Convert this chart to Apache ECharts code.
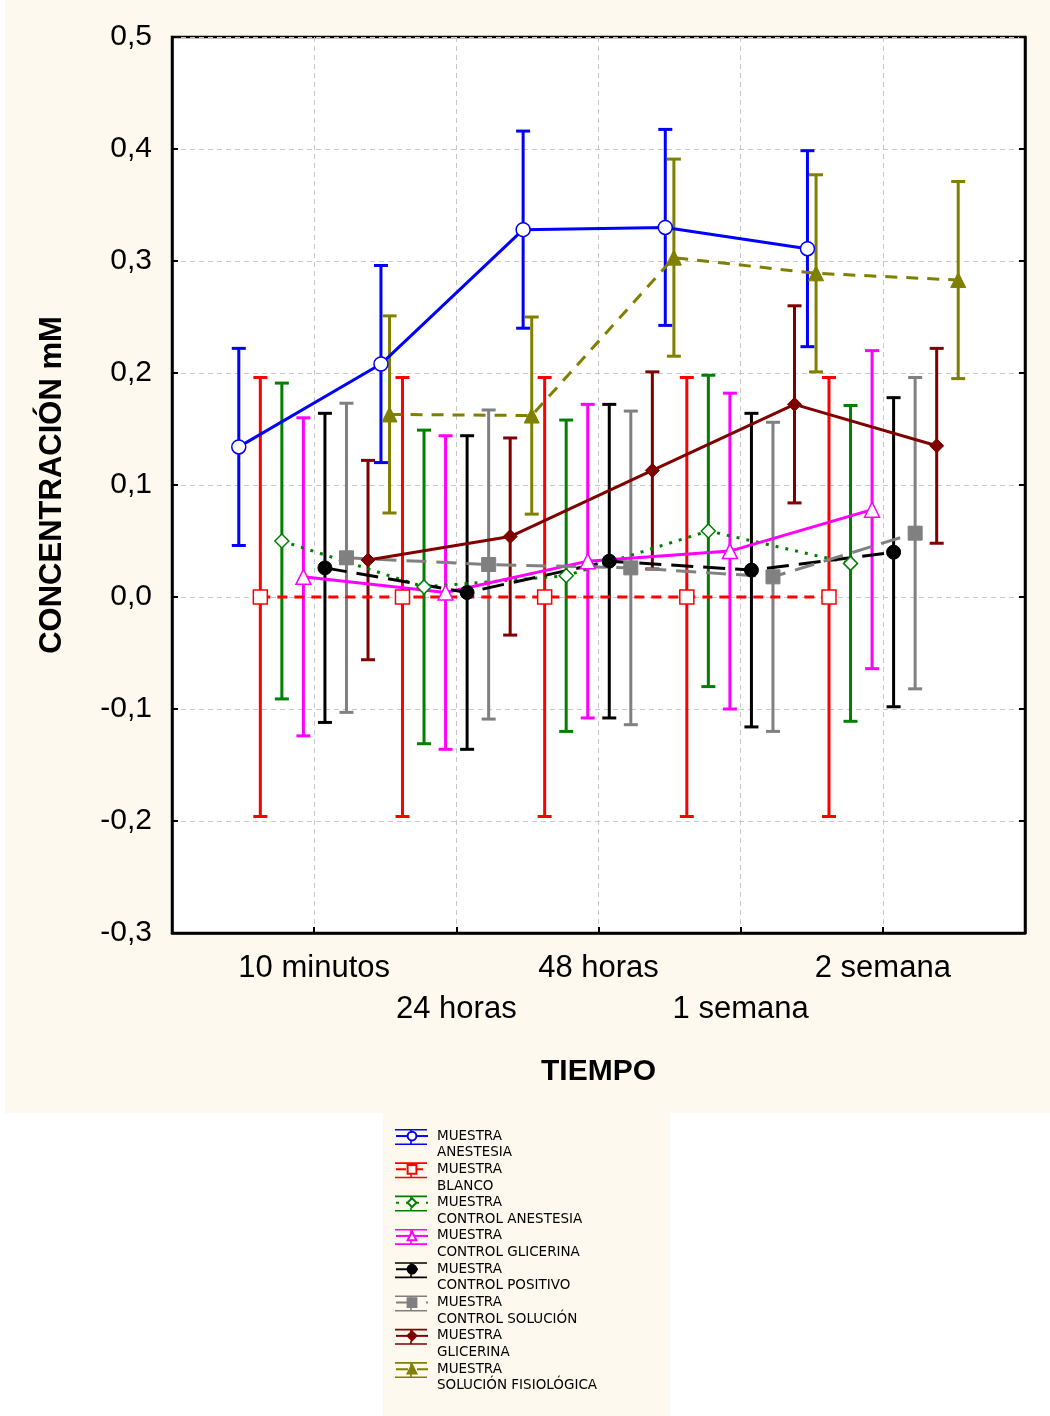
<!DOCTYPE html>
<html>
<head>
<meta charset="utf-8">
<title>Concentración mM vs tiempo</title>
<script src="https://cdn.jsdelivr.net/npm/echarts@6/dist/echarts.min.js"></script>
<style>
html, body { margin: 0; padding: 0; background: #fff; }
#wrap { position: relative; width: 1050px; height: 1416px; }
.bg { position: absolute; background: #fdf9ee; }
#chart { position: absolute; left: 0; top: 0; width: 1050px; height: 1416px; }
</style>
</head>
<body>
<div id="wrap">
  <div class="bg" style="left:5px;top:0;width:1045px;height:1113px"></div>
  <div class="bg" style="left:383px;top:1113px;width:287px;height:303px"></div>
  <div id="chart"></div>
</div>
<script>
// tiempos
const categories = ['10 minutos', '24 horas', '48 horas', '1 semana', '2 semana'];

const seriesNames = [
  'MUESTRA ANESTESIA',
  'MUESTRA BLANCO',
  'MUESTRA CONTROL ANESTESIA',
  'MUESTRA CONTROL GLICERINA',
  'MUESTRA CONTROL POSITIVO',
  'MUESTRA CONTROL SOLUCIÓN',
  'MUESTRA GLICERINA',
  'MUESTRA SOLUCIÓN FISIOLÓGICA'
];

// medias y semiancho del intervalo (mM)
const anestesiaMean = [0.134, 0.208, 0.328, 0.330, 0.311];
const anestesiaErr = [0.088, 0.088, 0.088, 0.0875, 0.0875];
const blancoMean = [0, 0, 0, 0, 0];
const blancoErr = [0.196, 0.196, 0.196, 0.196, 0.196];
const ctrlAnestesiaMean = [0.050, 0.009, 0.019, 0.059, 0.030];
const ctrlAnestesiaErr = [0.141, 0.140, 0.139, 0.139, 0.141];
const ctrlGlicerinaMean = [0.018, 0.004, 0.032, 0.041, 0.078];
const ctrlGlicerinaErr = [0.142, 0.140, 0.140, 0.141, 0.142];
const ctrlPositivoMean = [0.026, 0.004, 0.032, 0.024, 0.040];
const ctrlPositivoErr = [0.138, 0.140, 0.140, 0.140, 0.138];
const ctrlSolucionMean = [0.035, 0.029, 0.026, 0.018, 0.057];
const ctrlSolucionErr = [0.138, 0.138, 0.140, 0.138, 0.139];
const glicerinaMean = [0.033, 0.054, 0.113, 0.172, 0.135];
const glicerinaErr = [0.089, 0.088, 0.088, 0.088, 0.087];
const solFisioMean = [0.163, 0.162, 0.303, 0.289, 0.283];
const solFisioErr = [0.088, 0.088, 0.088, 0.088, 0.088];

const means = [anestesiaMean, blancoMean, ctrlAnestesiaMean, ctrlGlicerinaMean,
  ctrlPositivoMean, ctrlSolucionMean, glicerinaMean, solFisioMean];
const errs = [anestesiaErr, blancoErr, ctrlAnestesiaErr, ctrlGlicerinaErr,
  ctrlPositivoErr, ctrlSolucionErr, glicerinaErr, solFisioErr];

// estilos: color, simbolo, hueco, tipo de linea
const styles = [
  { color: '#0000ff', symbol: 'circle', open: true, dash: 'solid', size: 14 },
  { color: '#ff0000', symbol: 'rect', open: true, dash: [10, 7], size: 14 },
  { color: '#008000', symbol: 'diamond', open: true, dash: [3, 7], size: 14 },
  { color: '#ff00ff', symbol: 'triangle', open: true, dash: 'solid', size: 15 },
  { color: '#000000', symbol: 'circle', open: false, dash: [22, 10], size: 14 },
  { color: '#808080', symbol: 'rect', open: false, dash: [20, 10], size: 14 },
  { color: '#800000', symbol: 'diamond', open: false, dash: 'solid', size: 14 },
  { color: '#808000', symbol: 'triangle', open: false, dash: [12, 9], size: 15 }
];

const OFFSET = 0.1515; // separacion horizontal entre grupos
const FONT = '"Liberation Sans", Arial, sans-serif';
// barras del icono de leyenda (caja 32x16)
const CAPS_ICON = 'path://M0,0H32V1.6H0Z M0,14.4H32V16H0Z M15.2,0H16.8V4H15.2Z M15.2,12H16.8V16H15.2Z';

function renderErrorBar(params, api) {
  const lo = api.coord([api.value(0), api.value(1)]);
  const hi = api.coord([api.value(0), api.value(2)]);
  const half = 7;
  const style = { stroke: api.visual('color'), lineWidth: 3 };
  return {
    type: 'group',
    children: [
      { type: 'line', shape: { x1: lo[0], y1: lo[1], x2: hi[0], y2: hi[1] }, style: style },
      { type: 'line', shape: { x1: hi[0] - half, y1: hi[1], x2: hi[0] + half, y2: hi[1] }, style: style },
      { type: 'line', shape: { x1: lo[0] - half, y1: lo[1], x2: lo[0] + half, y2: lo[1] }, style: style }
    ]
  };
}

const series = [];
seriesNames.forEach(function (name, k) {
  const st = styles[k];
  const dx = (k - 3.5) * OFFSET;
  series.push({
    name: name + ' IC',
    type: 'custom',
    renderItem: renderErrorBar,
    itemStyle: { color: st.color },
    encode: { x: 0, y: [1, 2] },
    z: 2,
    data: means[k].map(function (m, i) {
      return [i + 1 + dx, m - errs[k][i], m + errs[k][i]];
    })
  });
});
seriesNames.forEach(function (name, k) {
  const st = styles[k];
  const dx = (k - 3.5) * OFFSET;
  series.push({
    name: name,
    type: 'line',
    z: 3,
    symbol: st.symbol,
    symbolSize: st.size,
    lineStyle: { color: st.color, width: 3, type: st.dash },
    itemStyle: st.open
      ? { color: '#ffffff', borderColor: st.color, borderWidth: 1.5 }
      : { color: st.color, borderColor: st.color, borderWidth: 1 },
    data: means[k].map(function (m, i) { return [i + 1 + dx, m]; })
  });
});

const chart = echarts.init(document.getElementById('chart'));
chart.setOption({
  animation: false,
  backgroundColor: 'transparent',
  grid: {
    left: 172, right: 25, top: 37, bottom: 483,
    show: true, backgroundColor: '#ffffff', borderColor: '#000', borderWidth: 2.5
  },
  legend: [{
    data: seriesNames,
    orient: 'vertical',
    left: 395,
    top: 1111,
    padding: 0,
    itemWidth: 32,
    itemHeight: 11,
    itemGap: -16.8,
    formatter: function (n) { return '\n' + n.replace(' ', '\n'); },
    textStyle: {
      fontFamily: '"DejaVu Sans", sans-serif',
      fontSize: 13.5,
      lineHeight: 16.7,
      padding: [0, 0, 0, 4],
      color: '#000'
    },
    selectedMode: false
  }, {
    // topes de las barras de error en los iconos
    data: seriesNames.map(function (n, k) {
      return { name: n, icon: CAPS_ICON, itemStyle: { color: styles[k].color, borderWidth: 0 } };
    }),
    orient: 'vertical',
    left: 395,
    top: 1129,
    padding: 0,
    itemWidth: 32,
    itemHeight: 16,
    itemGap: 17.3,
    formatter: function () { return ''; },
    selectedMode: false
  }],
  xAxis: {
    type: 'value',
    min: 0,
    max: 6,
    interval: 1,
    name: 'TIEMPO',
    nameLocation: 'middle',
    nameGap: 124,
    nameTextStyle: { fontFamily: FONT, fontSize: 30, fontWeight: 'bold', color: '#000' },
    axisLine: { onZero: false, lineStyle: { color: '#000', width: 2.5 } },
    axisTick: { inside: true, length: 6, lineStyle: { color: '#000', width: 2 } },
    axisLabel: {
      margin: 15,
      fontFamily: FONT,
      fontSize: 31,
      color: '#000',
      lineHeight: 41,
      formatter: function (v) {
        if (v < 1 || v > 5) return '';
        const lab = categories[v - 1];
        return v % 2 === 0 ? '\n' + lab : lab;
      }
    },
    splitLine: { show: true, lineStyle: { color: '#c8c8c8', type: [5, 4], width: 1 } }
  },
  yAxis: [{
    type: 'value',
    min: -0.3,
    max: 0.5,
    interval: 0.1,
    name: 'CONCENTRACIÓN mM',
    nameLocation: 'middle',
    nameRotate: 90,
    nameGap: 104,
    nameTextStyle: { fontFamily: FONT, fontSize: 31, fontWeight: 'bold', color: '#000' },
    axisLine: { show: true, onZero: false, lineStyle: { color: '#000', width: 2.5 } },
    axisTick: { show: true, inside: true, length: 6, lineStyle: { color: '#000', width: 2 } },
    axisLabel: {
      margin: 20,
      fontFamily: FONT,
      fontSize: 30,
      color: '#000',
      formatter: function (v) { return v.toFixed(1).replace('.', ','); }
    },
    splitLine: { show: true, lineStyle: { color: '#c8c8c8', type: [5, 4], width: 1 } }
  }, {
    type: 'value',
    position: 'right',
    min: -0.3,
    max: 0.5,
    interval: 0.1,
    axisLine: { show: true, onZero: false, lineStyle: { color: '#000', width: 2.5 } },
    axisTick: { show: true, inside: true, length: 6, lineStyle: { color: '#000', width: 2 } },
    axisLabel: { show: false },
    splitLine: { show: false }
  }],
  series: series
});
</script>
</body>
</html>
